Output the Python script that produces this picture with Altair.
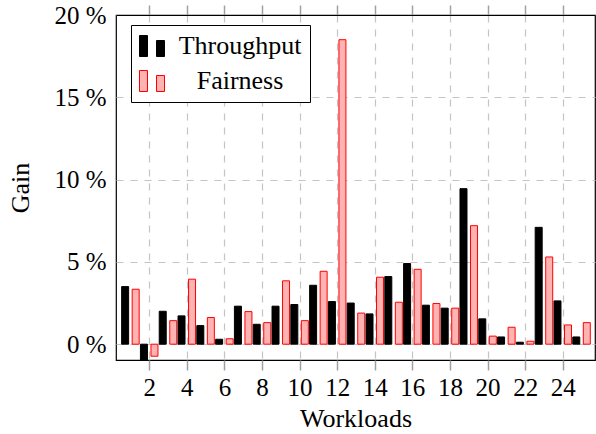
import altair as alt
import pandas as pd

workloads = list(range(1, 26))
throughput = [3.5, -1.0, 2.0, 1.72, 1.13, 0.3, 2.31, 1.21, 2.31, 2.41, 3.58, 2.59, 2.5,
              1.84, 4.11, 4.9, 2.37, 2.19, 9.45, 1.54, 0.44, 0.12, 7.1, 2.63, 0.44]
fairness = [3.34, -0.73, 1.43, 3.95, 1.62, 0.33, 1.98, 1.31, 3.85, 1.43, 4.43, 18.5, 1.89,
            4.07, 2.55, 4.55, 2.47, 2.19, 7.2, 0.49, 1.03, 0.18, 5.3, 1.17, 1.31]
series_names = ["Throughput", "Fairness"]
x_ticks = list(range(2, 25, 2))
y_ticks = [0, 5, 10, 15, 20]

rows = []
for w, t, f in zip(workloads, throughput, fairness):
    rows.append({"workload": w, "series": "Throughput", "gain": t})
    rows.append({"workload": w, "series": "Fairness", "gain": f})
df = pd.DataFrame(rows)

FONT = "Liberation Serif"
GRID = "#c4c4c4"
TICK = "#a0a0a0"
sym = "M-1,-0.84H-0.36V0.84H-1Z M0.36,-0.44H1V0.84H0.36Z"

xscale = alt.Scale(domain=[0.5, 25.45], nice=False, zero=False)
yscale = alt.Scale(domain=[-0.96, 20], nice=False, zero=False)

legend = alt.Legend(
    title=None, orient="none", legendX=15, legendY=10,
    symbolType=sym, symbolSize=625, symbolStrokeWidth=1,
    labelFont=FONT, labelFontSize=26, labelColor="black",
    labelAlign="center", labelOffset=75, labelLimit=400,
    padding=8, strokeColor="black", fillColor="white", rowPadding=9,
)

base = alt.Chart(df).transform_calculate(
    pos="datum.workload + (datum.series == 'Throughput' ? -0.28 : 0.28)"
)

bars = base.mark_bar(size=7, strokeWidth=1, clip=True).encode(
    x=alt.X("pos:Q", scale=xscale, axis=alt.Axis(
        values=x_ticks, title="Workloads", orient="bottom",
        grid=True, gridColor=GRID, gridDash=[7, 7], gridWidth=1.2,
        ticks=True, tickSize=10, tickColor=TICK, tickWidth=1.5,
        labelFont=FONT, labelFontSize=25, labelColor="black", labelPadding=5,
        titleFont=FONT, titleFontSize=26, titleFontWeight="normal", titleColor="black",
        titlePadding=5, domain=False, labelFlush=False, zindex=0)),
    y=alt.Y("gain:Q", scale=yscale, stack=None, axis=alt.Axis(
        values=y_ticks, title="Gain", labelExpr="datum.value + ' %'",
        grid=True, gridColor=GRID, gridDash=[7, 7], gridWidth=1.2,
        ticks=False, labelFont=FONT, labelFontSize=25, labelColor="black", labelPadding=10,
        titleFont=FONT, titleFontSize=26, titleFontWeight="normal", titleColor="black",
        titlePadding=20, domain=False, labelFlush=False, zindex=0)),
    y2=alt.datum(0),
    fill=alt.Fill("series:N", scale=alt.Scale(domain=series_names, range=["black", "#ffb3b3"]), legend=legend),
    stroke=alt.Stroke("series:N", scale=alt.Scale(domain=series_names, range=["black", "red"]), legend=legend),
)

top = base.mark_point(opacity=0).encode(
    x=alt.X("pos:Q", scale=xscale, axis=alt.Axis(
        values=x_ticks, title=None, orient="top", labels=False, grid=False,
        ticks=True, tickSize=10, tickColor=TICK, tickWidth=1.5,
        domain=True, domainColor="black", domainWidth=1.2, zindex=2)),
    y=alt.Y("gain:Q", scale=yscale),
)

chart = alt.layer(bars, top).resolve_axis(x="independent").properties(
    width=479, height=345,
    autosize=alt.AutoSizeParams(type="none"),
    padding={"left": 116, "top": 15, "right": 1, "bottom": 74},
).configure_view(stroke="black", strokeWidth=1.2)

chart.save("out.html", embed_options={"renderer": "svg", "actions": False})
